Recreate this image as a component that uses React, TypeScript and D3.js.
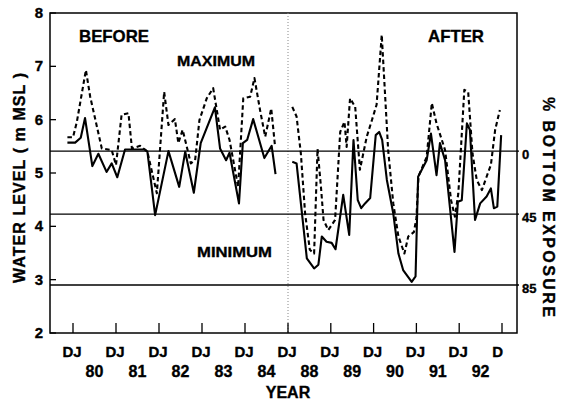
import React from 'react';
import * as d3 from 'd3';

// ---- Data ----
const beforeMaxYears = [1979.87, 1980.0, 1980.09, 1980.3, 1980.4, 1980.67, 1980.9, 1981.0, 1981.13, 1981.29, 1981.37, 1981.56, 1981.73, 1981.95, 1982.12, 1982.22, 1982.37, 1982.45, 1982.55, 1982.74, 1982.84, 1982.94, 1983.11, 1983.26, 1983.42, 1983.54, 1983.64, 1983.84, 1983.96, 1984.12, 1984.22, 1984.35, 1984.47, 1984.61, 1984.7];
const beforeMaxLevels = [5.67, 5.67, 5.96, 6.93, 6.43, 5.46, 5.43, 5.15, 6.09, 6.12, 5.46, 5.51, 5.4, 4.62, 6.52, 5.9, 6.01, 5.56, 5.81, 5.18, 5.24, 5.99, 6.4, 6.59, 5.81, 5.87, 5.62, 4.74, 6.4, 6.43, 6.78, 6.18, 5.68, 6.21, 5.49];

const beforeMinYears = [1979.87, 1980.05, 1980.18, 1980.28, 1980.45, 1980.59, 1980.78, 1980.9, 1981.03, 1981.21, 1981.67, 1981.73, 1981.91, 1982.22, 1982.47, 1982.61, 1982.81, 1982.97, 1983.3, 1983.42, 1983.56, 1983.64, 1983.73, 1983.86, 1983.95, 1984.05, 1984.19, 1984.45, 1984.62, 1984.71];
const beforeMinLevels = [5.57, 5.57, 5.66, 6.03, 5.13, 5.36, 5.02, 5.18, 4.92, 5.44, 5.44, 5.4, 4.21, 5.41, 4.74, 5.4, 4.63, 5.56, 6.23, 5.46, 5.24, 5.38, 4.99, 4.43, 5.56, 5.62, 6.01, 5.28, 5.51, 4.98];

const afterMaxYears = [1988.1, 1988.2, 1988.3, 1988.4, 1988.51, 1988.61, 1988.69, 1988.77, 1988.83, 1988.94, 1989.1, 1989.22, 1989.32, 1989.37, 1989.45, 1989.57, 1989.68, 1989.84, 1989.96, 1990.07, 1990.19, 1990.34, 1990.46, 1990.58, 1990.72, 1990.81, 1990.94, 1991.0, 1991.05, 1991.24, 1991.36, 1991.47, 1991.67, 1991.81, 1991.9, 1991.98, 1992.12, 1992.21, 1992.31, 1992.41, 1992.53, 1992.64, 1992.74, 1992.84, 1992.95];
const afterMaxLevels = [6.24, 6.06, 5.37, 4.24, 3.56, 3.49, 5.45, 4.74, 4.12, 3.93, 4.12, 5.77, 5.96, 5.49, 6.4, 6.24, 5.06, 5.68, 5.99, 6.28, 7.59, 5.43, 4.43, 3.81, 3.49, 3.81, 3.89, 4.15, 4.94, 5.3, 6.31, 5.93, 5.43, 4.49, 4.18, 4.62, 6.56, 6.52, 5.37, 4.87, 4.68, 4.93, 5.15, 5.81, 6.18];

const afterMinYears = [1988.1, 1988.2, 1988.44, 1988.61, 1988.71, 1988.79, 1988.9, 1989.02, 1989.11, 1989.29, 1989.43, 1989.53, 1989.63, 1989.71, 1989.8, 1989.92, 1990.05, 1990.13, 1990.2, 1990.31, 1990.46, 1990.58, 1990.69, 1990.89, 1990.98, 1991.04, 1991.24, 1991.34, 1991.47, 1991.55, 1991.67, 1991.89, 1991.97, 1992.06, 1992.18, 1992.25, 1992.37, 1992.49, 1992.64, 1992.74, 1992.81, 1992.89, 1992.98];
const afterMinLevels = [5.21, 5.18, 3.4, 3.21, 3.28, 3.81, 3.71, 3.69, 3.57, 4.59, 3.84, 5.62, 4.49, 4.34, 4.43, 4.53, 5.71, 5.77, 5.62, 4.87, 4.24, 3.49, 3.18, 2.96, 3.06, 4.93, 5.24, 5.74, 4.96, 5.56, 5.24, 3.52, 4.46, 4.49, 5.93, 5.81, 4.12, 4.43, 4.56, 4.71, 4.34, 4.37, 5.71];

const yTicks = [2, 3, 4, 5, 6, 7, 8];
const exposureLevels = [5.41, 4.23, 2.9];
const exposureLabels = ['0', '45', '85'];

const beforeTickYears = [1980, 1981, 1982, 1983, 1984, 1985];
const afterTickYears = [1989, 1990, 1991, 1992, 1993];
const afterTickLabels = ['DJ', 'DJ', 'DJ', 'DJ', 'D'];
const beforeYearLabels = ['80', '81', '82', '83', '84'];
const afterYearLabels = ['88', '89', '90', '91', '92'];

const FONT = "'Liberation Sans', Arial, Helvetica, sans-serif";

export default function App() {
  const W = 562, H = 403;
  const left = 50, right = 517, top = 13, bottom = 333;
  const y = d3.scaleLinear().domain([2, 8]).range([bottom, top]);
  const xB = d3.scaleLinear().domain([1980, 1985]).range([73, 288]);
  const xA = d3.scaleLinear().domain([1988, 1993]).range([288, 502]);

  const mk = (xs: number[], ys: number[]) => xs.map((v, i) => [v, ys[i]] as [number, number]);
  const lineB = d3.line<[number, number]>().x(d => xB(d[0])).y(d => y(d[1]));
  const lineA = d3.line<[number, number]>().x(d => xA(d[0])).y(d => y(d[1]));

  const solid = { fill: 'none', stroke: '#000', strokeWidth: 2.1, strokeLinejoin: 'round' as const };
  const dashed = { ...solid, strokeDasharray: '4.5,3' };

  const bold = { fontFamily: FONT, fontWeight: 700 as const, fill: '#000', stroke: '#000', strokeWidth: 0.35 };

  return (
    <svg width={W} height={H} style={{ position: 'absolute', left: 0, top: 0, background: '#fff' }}>
      <rect x={0} y={0} width={W} height={H} fill="#fff" />
      {/* frame */}
      <rect x={left} y={top} width={right - left} height={bottom - top} fill="none" stroke="#000" strokeWidth={1.5} />
      {/* separator */}
      <line x1={xB(1985)} x2={xB(1985)} y1={top} y2={bottom} stroke="#888" strokeWidth={1} strokeDasharray="1,2" />
      {/* exposure reference lines */}
      {exposureLevels.map((v, i) => (
        <g key={'e' + i}>
          <line x1={left} x2={right + 2} y1={y(v)} y2={y(v)} stroke="#000" strokeWidth={1.3} />
          <text x={right + 5} y={y(v) + 8} fontSize={13} {...bold}>{exposureLabels[i]}</text>
        </g>
      ))}
      {/* y ticks */}
      {yTicks.map(t => (
        <g key={'y' + t}>
          <line x1={left} x2={left + 6} y1={y(t)} y2={y(t)} stroke="#000" strokeWidth={1.3} />
          <text x={43} y={y(t) + 5} fontSize={15} textAnchor="end" {...bold}>{t}</text>
        </g>
      ))}
      {/* x ticks */}
      {beforeTickYears.map(t => (
        <g key={'b' + t}>
          <line x1={xB(t)} x2={xB(t)} y1={bottom} y2={bottom - 10} stroke="#000" strokeWidth={1.3} />
          <text x={xB(t) - 1} y={357} fontSize={15} textAnchor="middle" {...bold}>DJ</text>
        </g>
      ))}
      {afterTickYears.map((t, i) => (
        <g key={'a' + t}>
          <line x1={xA(t)} x2={xA(t)} y1={bottom} y2={bottom - 10} stroke="#000" strokeWidth={1.3} />
          <text x={afterTickLabels[i] === 'D' ? xA(t) + 1 : xA(t) - 1} y={357} fontSize={15}
            textAnchor={afterTickLabels[i] === 'D' ? 'end' : 'middle'} {...bold}>{afterTickLabels[i]}</text>
        </g>
      ))}
      {beforeYearLabels.map((l, i) => (
        <text key={'bl' + l} x={xB(1980.5 + i)} y={377} fontSize={16} textAnchor="middle" {...bold}>{l}</text>
      ))}
      {afterYearLabels.map((l, i) => (
        <text key={'al' + l} x={xA(1988.5 + i)} y={377} fontSize={16} textAnchor="middle" {...bold}>{l}</text>
      ))}
      <text x={288} y={398} fontSize={16} textAnchor="middle" {...bold}>YEAR</text>

      {/* axis titles */}
      <text transform={`translate(25,178) rotate(-90)`} fontSize={16} textAnchor="middle"
        textLength={210} lengthAdjust="spacing" {...bold}>WATER LEVEL ( m MSL )</text>
      <text transform={`translate(543,207) rotate(90)`} fontSize={16} textAnchor="middle"
        textLength={220} lengthAdjust="spacing" {...bold}>% BOTTOM EXPOSURE</text>

      {/* annotations */}
      <text x={79} y={42} fontSize={17} textLength={70} lengthAdjust="spacingAndGlyphs" {...bold}>BEFORE</text>
      <text x={428} y={42} fontSize={17} textLength={56} lengthAdjust="spacingAndGlyphs" {...bold}>AFTER</text>
      <text x={177} y={66} fontSize={15} textLength={78} lengthAdjust="spacingAndGlyphs" {...bold}>MAXIMUM</text>
      <text x={197} y={257} fontSize={15} textLength={75} lengthAdjust="spacingAndGlyphs" {...bold}>MINIMUM</text>

      {/* series */}
      <path d={lineB(mk(beforeMaxYears, beforeMaxLevels)) || ''} style={dashed} />
      <path d={lineB(mk(beforeMinYears, beforeMinLevels)) || ''} style={solid} />
      <path d={lineA(mk(afterMaxYears, afterMaxLevels)) || ''} style={dashed} />
      <path d={lineA(mk(afterMinYears, afterMinLevels)) || ''} style={solid} />
    </svg>
  );
}
